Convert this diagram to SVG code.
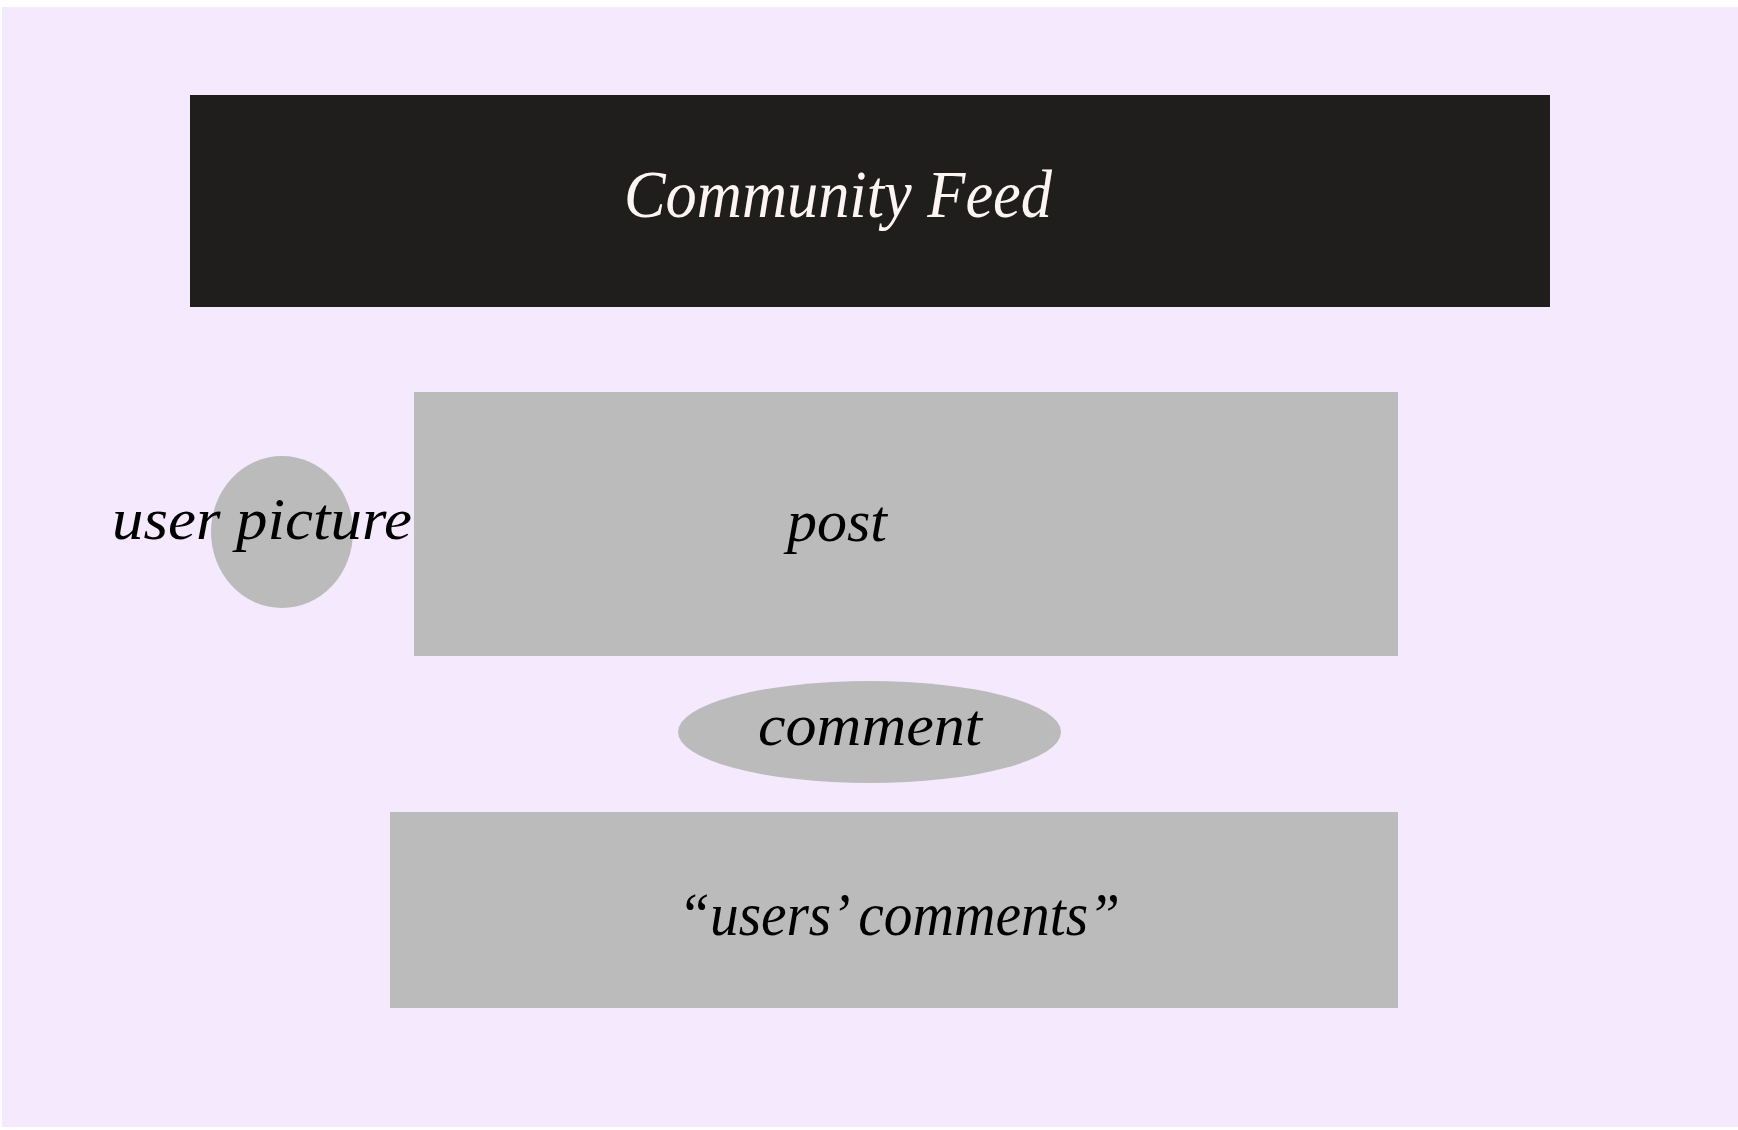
<svg xmlns="http://www.w3.org/2000/svg" width="1738" height="1130" viewBox="0 0 1738 1130">
<style>
.lbl{font-family:"Liberation Serif","DejaVu Serif",serif;font-style:italic;fill:#000;text-anchor:middle}
.box{fill:#bbbbbb}
</style>
<rect x="0" y="0" width="1738" height="1130" fill="#ffffff"/>
<rect x="2" y="7" width="1736" height="1120" fill="#f5e9fd"/>
<g id="header">
<rect x="190" y="95" width="1360" height="212" fill="#1f1e1c"/>
<text x="838" y="217" class="lbl" style="fill:#fdf4f4" font-size="68" textLength="428" lengthAdjust="spacingAndGlyphs">Community Feed</text>
</g>
<g id="post">
<rect class="box" x="414" y="392" width="984" height="264"/>
<text x="837" y="541" class="lbl" font-size="60" textLength="100" lengthAdjust="spacingAndGlyphs">post</text>
</g>
<g id="user-picture">
<ellipse class="box" cx="282" cy="532" rx="71" ry="76"/>
<text x="262" y="539" class="lbl" font-size="60" textLength="300" lengthAdjust="spacingAndGlyphs">user picture</text>
</g>
<g id="comment">
<ellipse class="box" cx="869.5" cy="732" rx="191.5" ry="51"/>
<text x="870" y="745" class="lbl" font-size="60" textLength="224" lengthAdjust="spacingAndGlyphs">comment</text>
</g>
<g id="users-comments">
<rect class="box" x="390" y="812" width="1008" height="196"/>
<text x="899" y="935" class="lbl" font-size="62" textLength="442" lengthAdjust="spacingAndGlyphs">“users’ comments”</text>
</g>
<g id="connectors"></g>
</svg>
